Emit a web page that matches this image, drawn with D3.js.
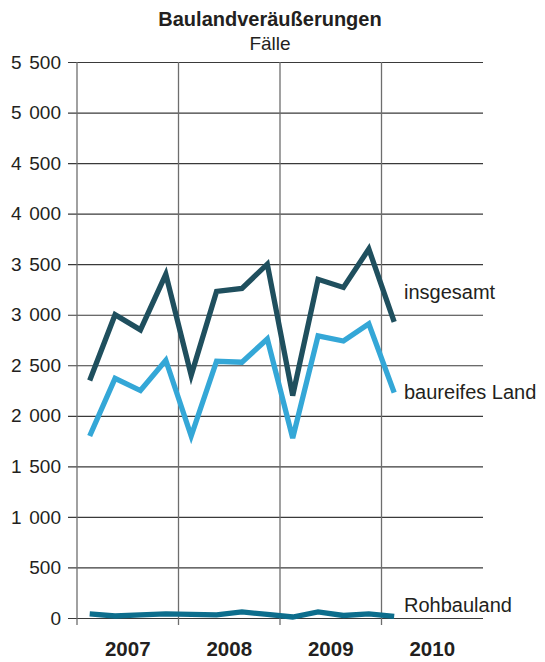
<!DOCTYPE html>
<html>
<head>
<meta charset="utf-8">
<script src="https://cdn.jsdelivr.net/npm/d3@7"></script>
<style>
  body { margin: 0; background: #fff; }
  svg { display: block; font-family: "Liberation Sans", Arial, Helvetica, sans-serif; }
  .grid line { stroke: #3a3a3a; stroke-width: 1.2; }
  .vgrid line { stroke: #6e6e6e; stroke-width: 1.3; }
</style>
</head>
<body>
<div id="chart"></div>
<script>
// years and quarters on the x axis
var years = ["2007", "2008", "2009", "2010"];
var quarters = [];
years.forEach(y => [1, 2, 3, 4].forEach(q => quarters.push(y + "-" + q)));

// quarterly values, 2007 Q1 .. 2010 Q1
var periods = quarters.slice(0, 13);
var insgesamt = [2350, 3000, 2850, 3400, 2400, 3230, 3260, 3500, 2200, 3350, 3270, 3650, 2930];
var baureifes = [1800, 2370, 2250, 2550, 1800, 2540, 2530, 2760, 1780, 2790, 2740, 2910, 2230];
var rohbauland = [40, 20, 30, 40, 35, 30, 60, 35, 10, 60, 25, 40, 15];

var yTicks = [0, 500, 1000, 1500, 2000, 2500, 3000, 3500, 4000, 4500, 5000, 5500];

var series = [
  {name: "insgesamt", values: insgesamt, color: "#1f4f5e", labelY: 299},
  {name: "baureifes Land", values: baureifes, color: "#34a7d7", labelY: 399},
  {name: "Rohbauland", values: rohbauland, color: "#0d6e8d", labelY: 612}
];

var width = 545, height = 662;
var margin = {top: 62, right: 62, bottom: 44, left: 77};
var chartWidth = width - margin.left - margin.right;
var chartHeight = height - margin.top - margin.bottom;

var svg = d3.select("#chart").append("svg")
    .attr("width", width)
    .attr("height", height);

var g = svg.append("g")
    .attr("transform", `translate(${margin.left}, ${margin.top})`);

var xYear = d3.scaleBand()
    .domain(years)
    .range([0, chartWidth])
    .padding(0);

var xQuarter = d3.scaleBand()
    .domain(quarters)
    .range([0, chartWidth])
    .padding(0);

var yScale = d3.scaleLinear()
    .domain([0, 5500])
    .range([chartHeight, 0]);

var fmt = d3.formatLocale({decimal: ",", thousands: " ", grouping: [3], currency: ["", " €"]}).format(",d");

// horizontal grid + tick labels
var yAxis = d3.axisLeft(yScale)
    .tickValues(yTicks)
    .tickFormat(fmt)
    .tickSize(-(chartWidth + 9))
    .tickPadding(7);

var yg = g.append("g")
    .attr("class", "grid")
    .attr("transform", "translate(-9,0)")
    .call(yAxis);
yg.select(".domain").remove();
yg.selectAll("text")
    .attr("fill", "#231f20")
    .style("font-size", "19px")
    .style("word-spacing", "2.5px");

// vertical year lines
var vg = g.append("g").attr("class", "vgrid");
vg.selectAll("line")
    .data(years)
    .enter().append("line")
    .attr("x1", d => xYear(d))
    .attr("x2", d => xYear(d))
    .attr("y1", 0)
    .attr("y2", chartHeight + 7);

// year labels
g.append("g").selectAll("text")
    .data(years)
    .enter().append("text")
    .attr("x", d => xYear(d) + xYear.bandwidth() / 2)
    .attr("y", chartHeight + 38)
    .attr("text-anchor", "middle")
    .attr("fill", "#231f20")
    .style("font-size", "20.5px")
    .style("font-weight", "bold")
    .text(d => d);

// lines
var line = d3.line()
    .x((d, i) => xQuarter(periods[i]) + xQuarter.bandwidth() / 2)
    .y(d => yScale(d));

g.append("g").selectAll("path")
    .data(series.slice().reverse())
    .enter().append("path")
    .attr("fill", "none")
    .attr("stroke", d => d.color)
    .attr("stroke-width", 5.3)
    .attr("stroke-linejoin", "miter")
    .attr("d", d => line(d.values));

// series labels
svg.append("g").selectAll("text")
    .data(series)
    .enter().append("text")
    .attr("x", 404)
    .attr("y", d => d.labelY)
    .attr("fill", "#231f20")
    .style("font-size", "20px")
    .text(d => d.name);

// title
svg.append("text")
    .attr("x", 270)
    .attr("y", 26)
    .attr("text-anchor", "middle")
    .attr("fill", "#231f20")
    .style("font-size", "20px")
    .style("font-weight", "bold")
    .text("Baulandveräußerungen");

svg.append("text")
    .attr("x", 270)
    .attr("y", 50)
    .attr("text-anchor", "middle")
    .attr("fill", "#231f20")
    .style("font-size", "19px")
    .text("Fälle");
</script>
</body>
</html>
